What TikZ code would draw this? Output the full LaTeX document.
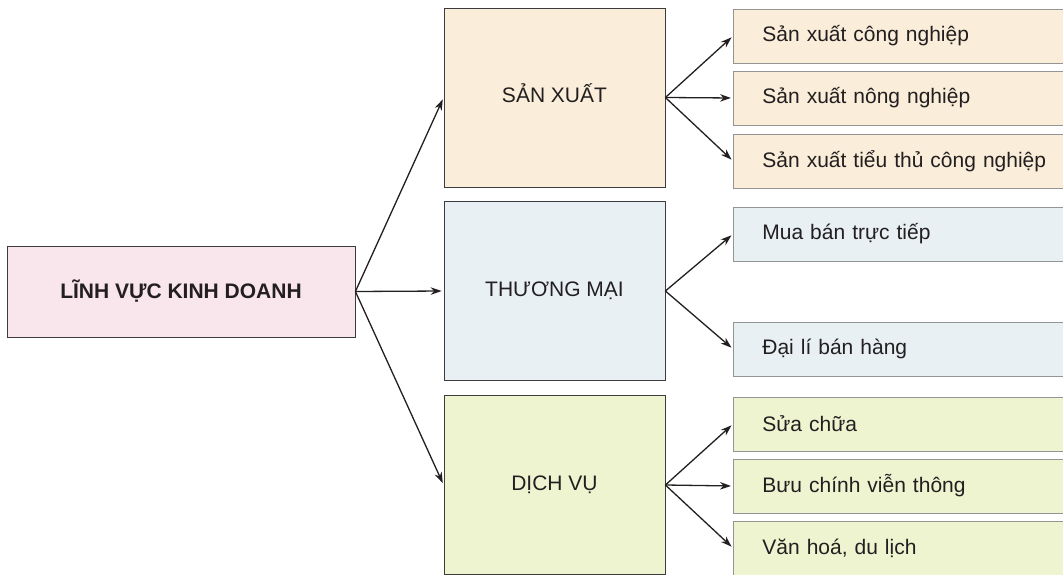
\documentclass[tikz,border=0pt]{standalone}
\usepackage{fontspec}
\setmainfont{Liberation Sans}
\definecolor{ink}{RGB}{35,31,32}
\definecolor{edge}{RGB}{60,60,62}
\definecolor{rosefill}{RGB}{248,230,236}
\definecolor{sandfill}{RGB}{250,237,218}
\definecolor{mistfill}{RGB}{232,240,244}
\definecolor{limefill}{RGB}{238,243,208}
\usetikzlibrary{arrows.meta,positioning}

\begin{document}
\begin{tikzpicture}[x=1pt,y=-1pt,
    font=\fontsize{21}{25}\selectfont,text=ink,
    box/.style={draw=edge,line width=0.8pt,inner sep=0pt},
    bigbox/.style={box,minimum width=221pt,minimum height=179pt,
      text height=15pt,text depth=5pt},
    subbox/.style={box,draw=edge!55,anchor=west,minimum height=54pt,
      inner xsep=29pt,text width=285pt,align=left},
    link/.style={draw=ink,line width=1.3pt,
      -{Stealth[length=11pt,width=7.5pt]},shorten >=2pt}]
  \useasboundingbox (0,0) rectangle (1063,575);

  \node[box,fill=rosefill,minimum width=348pt,minimum height=91pt,font=\fontsize{21}{25}\selectfont\bfseries]
    (field) at (181,291.5) {LĨNH VỰC KINH DOANH};

  \node[bigbox,fill=sandfill] (prod) at (554.5,97.5) {SẢN XUẤT};
  \node[bigbox,fill=mistfill] (trade) at (554.5,291) {THƯƠNG MẠI};
  \node[bigbox,fill=limefill] (serv) at (554.5,485) {DỊCH VỤ};

  \node[subbox,fill=sandfill] (prod1) at (733,36) {Sản xuất công nghiệp};
  \node[subbox,fill=sandfill] (prod2) at (733,98) {Sản xuất nông nghiệp};
  \node[subbox,fill=sandfill] (prod3) at (733,161) {Sản xuất tiểu thủ công nghiệp};
  \node[subbox,fill=mistfill] (trade1) at (733,234) {Mua bán trực tiếp};
  \node[subbox,fill=mistfill] (trade2) at (733,349) {Đại lí bán hàng};
  \node[subbox,fill=limefill] (serv1) at (733,424) {Sửa chữa};
  \node[subbox,fill=limefill] (serv2) at (733,486) {Bưu chính viễn thông};
  \node[subbox,fill=limefill] (serv3) at (733,548) {Văn hoá, du lịch};

  \foreach \t in {prod,trade,serv}
    \draw[link] (field.east) -- (\t.west);
  \foreach \t in {prod1,prod2,prod3}
    \draw[link] (prod.east) -- (\t.west);
  \foreach \t in {trade1,trade2}
    \draw[link] (trade.east) -- (\t.west);
  \foreach \t in {serv1,serv2,serv3}
    \draw[link] (serv.east) -- (\t.west);
\end{tikzpicture}
\end{document}
